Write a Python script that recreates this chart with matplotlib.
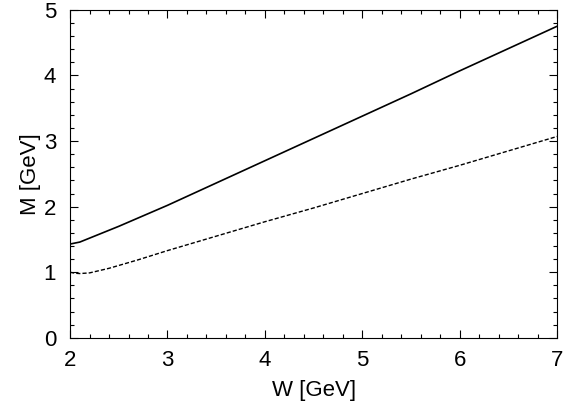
import numpy as np
import matplotlib
matplotlib.use("Agg")
import matplotlib.pyplot as plt
from matplotlib.ticker import MultipleLocator

plt.rcParams['font.family'] = ['Liberation Sans', 'DejaVu Sans']

# values
w_solid = [2.0, 2.1, 2.25, 2.5, 3.0, 3.5, 4.0, 4.5, 5.0, 5.5, 6.0, 6.5, 7.0]
m_solid = [1.43, 1.46, 1.55, 1.70, 2.02, 2.36, 2.70, 3.04, 3.38, 3.72, 4.07, 4.41, 4.75]

w_dash = [2.0, 2.05, 2.1, 2.2, 2.4, 2.7, 3.0, 3.5, 4.0, 4.5, 5.0, 5.5, 6.0, 6.5, 7.0]
m_dash = [1.00, 0.985, 0.98, 0.99, 1.06, 1.19, 1.33, 1.55, 1.77, 1.98, 2.20, 2.42, 2.63, 2.85, 3.07]

fig = plt.figure(figsize=(5.65, 4.11), dpi=100)
ax = fig.add_axes([0.124, 0.178, 0.862, 0.798])

ax.plot(w_solid, m_solid, color='black', lw=1.2, linestyle='-')
ax.plot(w_dash, m_dash, color='black', lw=1.0, linestyle=(0, (3, 1.5)))

ax.set_xlim(2, 7)
ax.set_ylim(0, 5)
ax.xaxis.set_major_locator(MultipleLocator(1))
ax.xaxis.set_minor_locator(MultipleLocator(0.2))
ax.yaxis.set_major_locator(MultipleLocator(1))
ax.yaxis.set_minor_locator(MultipleLocator(0.2))
ax.tick_params(which='both', direction='in', top=True, right=True, labelsize=16)
ax.tick_params(which='major', length=6, width=0.8)
ax.tick_params(which='minor', length=3, width=0.8)
ax.tick_params(axis='x', pad=9)
ax.tick_params(axis='y', pad=10)

ax.set_xlabel('W [GeV]', fontsize=16, labelpad=6)
ax.set_ylabel('M [GeV]', fontsize=16, labelpad=2)

fig.savefig('out.png', dpi=100)
